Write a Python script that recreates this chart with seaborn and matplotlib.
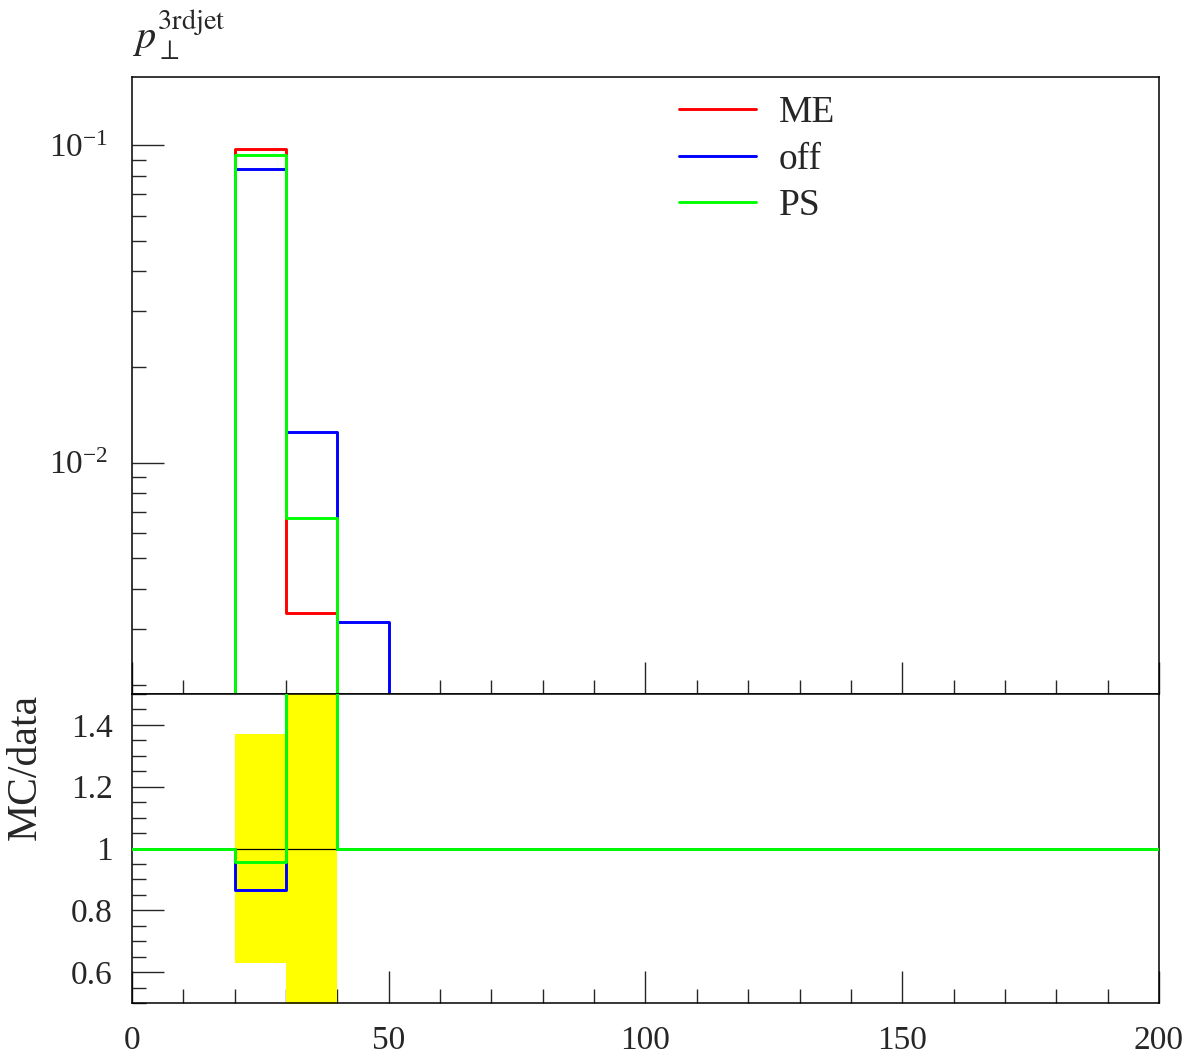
import numpy as np
import matplotlib
matplotlib.use('Agg')
import matplotlib.pyplot as plt
import seaborn as sns
from matplotlib.ticker import MultipleLocator, LogLocator, FuncFormatter, NullFormatter

# ---------------------------------------------------------
# Data (bin width 10, 0..200)
# ---------------------------------------------------------
bin_edges = [0, 10, 20, 30, 40, 50, 60, 70, 80, 90, 100,
             110, 120, 130, 140, 150, 160, 170, 180, 190, 200]
me_vals = [0, 0, 0.0971, 0.00336, 0, 0, 0, 0, 0, 0,
           0, 0, 0, 0, 0, 0, 0, 0, 0, 0]
off_vals = [0, 0, 0.0840, 0.01253, 0.00315, 0, 0, 0, 0, 0,
            0, 0, 0, 0, 0, 0, 0, 0, 0, 0]
ps_vals = [0, 0, 0.0930, 0.0067, 0, 0, 0, 0, 0, 0,
           0, 0, 0, 0, 0, 0, 0, 0, 0, 0]
# relative uncertainty of the reference ("data") = ME
me_rel_err = [0, 0, 0.37, 0.95, 0, 0, 0, 0, 0, 0,
              0, 0, 0, 0, 0, 0, 0, 0, 0, 0]

labels = ['ME', 'off', 'PS']
colors = ['#ff0000', '#0000ff', '#00ff00']

# ---------------------------------------------------------
# Style
# ---------------------------------------------------------
sns.set_theme(style='ticks')
plt.rcParams['font.family'] = ['Liberation Serif', 'DejaVu Serif']
plt.rcParams['mathtext.fontset'] = 'stix'
plt.rcParams['axes.linewidth'] = 1.1

fig = plt.figure(figsize=(12.02, 10.64), dpi=100)
ax = fig.add_axes([0.1098, 0.3477, 0.8544, 0.5799])
rax = fig.add_axes([0.1098, 0.0573, 0.8544, 0.2904], sharex=ax)

edges = np.array(bin_edges, dtype=float)


def ext(v):
    # repeat last value so steps-post covers the last bin
    v = np.asarray(v, dtype=float)
    return np.append(v, v[-1])


# ---------------------------------------------------------
# Main panel
# ---------------------------------------------------------
ax.set_yscale('log')
floor = 1e-7
for vals, lab, col in zip([me_vals, off_vals, ps_vals], labels, colors):
    y = np.where(ext(vals) > 0, ext(vals), floor)
    sns.lineplot(x=edges, y=y, ax=ax, drawstyle='steps-post', color=col,
                 lw=2.1, label=lab, estimator=None, sort=False)

ax.set_xlim(0, 200)
ax.set_ylim(0.001867, 0.1638)
ax.set_xlabel('')
ax.set_ylabel('')
ax.text(0.0, 1.025, r'$p_{\perp}^{\mathrm{3rdjet}}$', transform=ax.transAxes,
        ha='left', va='bottom', fontsize=29)

ax.legend(loc='upper left', bbox_to_anchor=(0.502, 1.021), frameon=False,
          fontsize=27, handlelength=2.05, handletextpad=0.6,
          labelspacing=0.32, borderpad=0.35)

ax.yaxis.set_major_locator(LogLocator(base=10))
ax.yaxis.set_minor_locator(LogLocator(base=10, subs=np.arange(2, 10)))
ax.yaxis.set_minor_formatter(NullFormatter())

# ---------------------------------------------------------
# Ratio panel (ME is the reference, so only off and PS are drawn)
# ---------------------------------------------------------
me_arr = np.array(me_vals)
err = ext(me_rel_err)
rax.fill_between(edges, 1 - err, 1 + err, step='post', color='#ffff00',
                 lw=0, zorder=1)
rax.axhline(1, color='black', lw=0.9, zorder=2)
for vals, lab, col in zip([off_vals, ps_vals], labels[1:], colors[1:]):
    v = np.array(vals)
    ratio = np.where(me_arr > 0, v / np.where(me_arr > 0, me_arr, 1), 1.0)
    sns.lineplot(x=edges, y=ext(ratio), ax=rax, drawstyle='steps-post',
                 color=col, lw=2.1, estimator=None, sort=False, zorder=3)

rax.set_ylim(0.5, 1.5)
rax.set_xlim(0, 200)
rax.set_xlabel('')
rax.set_ylabel('MC/data', fontsize=30, loc='top', labelpad=19)
rax.yaxis.set_major_locator(MultipleLocator(0.2))
rax.yaxis.set_minor_locator(MultipleLocator(0.05))
rax.yaxis.set_major_formatter(FuncFormatter(lambda v, p: '%g' % round(v, 2)))

# ---------------------------------------------------------
# Ticks for both panels
# ---------------------------------------------------------
for a in (ax, rax):
    a.xaxis.set_major_locator(MultipleLocator(50))
    a.xaxis.set_minor_locator(MultipleLocator(10))
    a.tick_params(which='major', direction='in', length=23, width=1.0,
                  top=False, right=False, labelsize=24, pad=14)
    a.tick_params(which='minor', direction='in', length=10, width=1.0,
                  top=False, right=False)
    for s in a.spines.values():
        s.set_visible(True)
        s.set_color('black')

ax.tick_params(axis='y', pad=17)
ax.tick_params(labelbottom=False)
rax.tick_params(axis='x', pad=16)
if rax.get_legend() is not None:
    rax.get_legend().remove()

fig.savefig('out.png', dpi=100)
